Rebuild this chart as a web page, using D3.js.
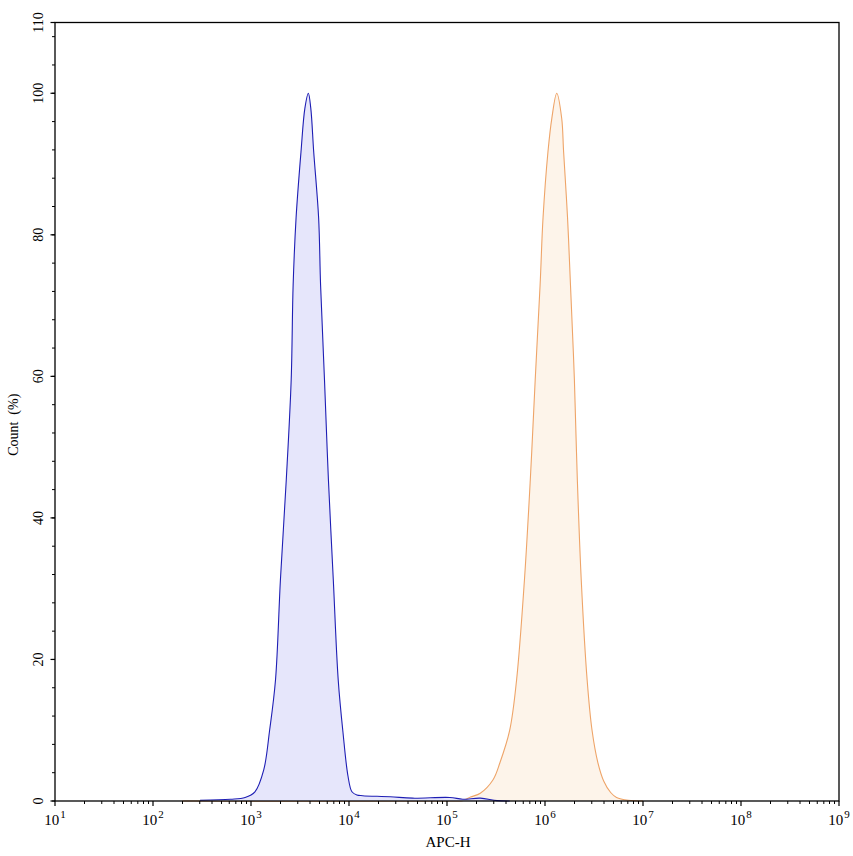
<!DOCTYPE html>
<html>
<head>
<meta charset="utf-8">
<script src="https://cdn.jsdelivr.net/npm/d3@7"></script>
<style>
	body { margin: 0; background: #fff; }
	svg text { font-family: "Liberation Serif", "Times New Roman", Times, serif; fill: #000; }
</style>
</head>
<body>
<div id="chart-area"></div>
<script>
// histogram outlines (x as log10 of APC-H, y as Count %)
const blueLogX = [2.48, 2.79, 2.94, 3.04, 3.13, 3.19, 3.25, 3.30, 3.36, 3.41, 3.43, 3.46, 3.51, 3.55, 3.585,
	3.61, 3.64, 3.69, 3.71, 3.75, 3.79, 3.84, 3.89, 3.94, 3.99, 4.03, 4.08, 4.14, 4.42, 4.65, 5.03, 5.16, 5.34, 5.51, 5.64];
const blueCount = [0.1, 0.25, 0.5, 1.3, 4.4, 10, 17.1, 31.2, 45.4, 59.5, 72.9, 82.4, 91.7, 97.9, 100,
	97.9, 91.7, 82.4, 72.9, 59.5, 45.4, 31.2, 17.1, 9.5, 3.5, 1.3, 0.85, 0.75, 0.6, 0.4, 0.5, 0.25, 0.4, 0.05, 0];

const orangeLogX = [2.3, 5.08, 5.16, 5.24, 5.34, 5.47, 5.54, 5.64, 5.71, 5.79, 5.85, 5.90, 5.95, 5.98, 6.03, 6.07, 6.12,
	6.17, 6.19, 6.23, 6.26, 6.30, 6.33, 6.37, 6.43, 6.48, 6.54, 6.60, 6.67, 6.73, 6.85, 7.0];
const orangeCount = [0, 0, 0.05, 0.56, 1.1, 3.0, 5.4, 10, 17.1, 31.2, 45.4, 59.5, 72.9, 82.4, 91.7, 96.5, 100,
	96.5, 91.7, 82.4, 72.9, 59.5, 45.4, 31.2, 17.1, 10, 5.4, 2.8, 1.2, 0.5, 0.1, 0];

const xDecades = [1, 2, 3, 4, 5, 6, 7, 8, 9];
const yLabels = [0, 20, 40, 60, 80, 100, 110];

const margin = { left: 55, right: 14, top: 22.5, bottom: 55 };
const width = 853 - margin.left - margin.right;
const height = 856 - margin.top - margin.bottom;

const svg = d3.select("#chart-area").append("svg")
	.attr("width", 853)
	.attr("height", 856);

const g = svg.append("g")
	.attr("transform", `translate(${margin.left}, ${margin.top})`);

const x = d3.scaleLog().domain([1e1, 1e9]).range([0, width]);
const y = d3.scaleLinear().domain([0, 110]).range([height, 0]);

const toPoints = (lx, c) => lx.map((e, i) => ({ v: Math.pow(10, e), c: c[i] }));

const curve = d3.curveCatmullRom.alpha(0.5);
const area = d3.area()
	.x(d => x(d.v))
	.y0(height)
	.y1(d => Math.min(height, y(d.c)))
	.curve(curve);
const line = d3.line()
	.x(d => x(d.v))
	.y(d => y(d.c))
	.curve(curve);

const series = [
	{ pts: toPoints(orangeLogX, orangeCount), fill: "#fdf4ea", stroke: "#eea468" },
	{ pts: toPoints(blueLogX, blueCount), fill: "#e6e6fb", stroke: "#1e1eb4" }
];

series.forEach(s => {
	g.append("path").datum(s.pts).attr("d", area).attr("fill", s.fill);
	g.append("path").datum(s.pts).attr("d", line)
		.attr("fill", "none")
		.attr("stroke", s.stroke)
		.attr("stroke-width", 1.1);
});

// frame
g.append("rect")
	.attr("width", width)
	.attr("height", height)
	.attr("fill", "none")
	.attr("stroke", "#000")
	.attr("stroke-width", 1.3);

// x ticks (log, minor at 2..9)
const minorX = [];
xDecades.slice(0, -1).forEach(d => {
	for (let k = 2; k <= 9; k++) minorX.push(k * Math.pow(10, d));
});
g.selectAll(".x-minor").data(minorX).enter().append("line")
	.attr("x1", d => x(d)).attr("x2", d => x(d))
	.attr("y1", height).attr("y2", height + 3)
	.attr("stroke", "#000");
g.selectAll(".x-major").data(xDecades).enter().append("line")
	.attr("x1", d => x(Math.pow(10, d))).attr("x2", d => x(Math.pow(10, d)))
	.attr("y1", height).attr("y2", height + 5)
	.attr("stroke", "#000").attr("stroke-width", 1.2);

const xLabels = g.selectAll(".x-label").data(xDecades).enter().append("text")
	.attr("x", d => x(Math.pow(10, d)))
	.attr("y", height + 24)
	.attr("text-anchor", "middle")
	.attr("font-size", "15px");
xLabels.append("tspan").text("10");
xLabels.append("tspan")
	.attr("dy", -7)
	.attr("dx", 1)
	.attr("font-size", "11px")
	.text(d => d);

// y ticks, minor every 4
const minorY = d3.range(0, 110, 4);
g.selectAll(".y-minor").data(minorY).enter().append("line")
	.attr("x1", -3).attr("x2", 0)
	.attr("y1", d => y(d)).attr("y2", d => y(d))
	.attr("stroke", "#000");
g.selectAll(".y-major").data(yLabels).enter().append("line")
	.attr("x1", -4.5).attr("x2", 0)
	.attr("y1", d => y(d)).attr("y2", d => y(d))
	.attr("stroke", "#000").attr("stroke-width", 1.2);
g.selectAll(".y-label").data(yLabels).enter().append("text")
	.attr("transform", d => `translate(-12, ${y(d)}) rotate(-90)`)
	.attr("text-anchor", "middle")
	.attr("font-size", "14px")
	.text(d => d);

// axis titles
g.append("text")
	.attr("x", width / 2 + 1)
	.attr("y", height + 46)
	.attr("text-anchor", "middle")
	.attr("font-size", "15px")
	.text("APC-H");

g.append("text")
	.attr("transform", `translate(-37, ${y(55) + 13}) rotate(-90)`)
	.attr("text-anchor", "middle")
	.attr("font-size", "14px")
	.style("white-space", "pre")
	.text("Count  (%)");
</script>
</body>
</html>
